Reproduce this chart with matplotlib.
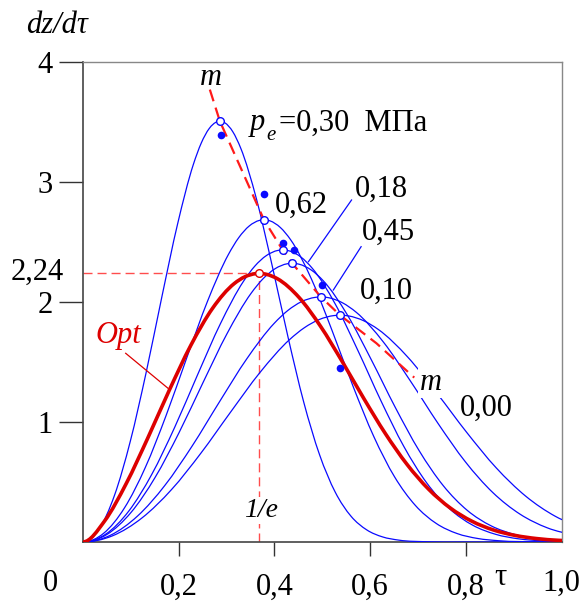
import matplotlib
matplotlib.use("Agg")
import matplotlib.pyplot as plt
from matplotlib.path import Path
from matplotlib.patches import PathPatch
from matplotlib.transforms import blended_transform_factory

# curves dz/dtau, one pair of lists per pressure
tau_030 = [0, 0.0329, 0.0659, 0.0988, 0.1318, 0.1647, 0.1977, 0.2306, 0.2471, 0.2636, 0.2800, 0.2860, 0.2965, 0.3130,
           0.3294, 0.3624, 0.3953, 0.4283, 0.4612, 0.4942, 0.5271, 0.5600, 0.5930, 0.6259, 0.6589, 0.7248, 0.7907, 1.0213]
dz_030 = [0, 0.1023, 0.3897, 0.8387, 1.4099, 2.0416, 2.6513, 3.1469, 3.3249, 3.4452, 3.5020, 3.5063, 3.4929, 3.4186,
          3.2830, 2.8583, 2.3008, 1.7077, 1.1646, 0.7271, 0.4141, 0.2142, 0.1002, 0.0422, 0.0159, 0.0016, 0.0001, 0.0]

tau_062 = [0, 0.0434, 0.0868, 0.1302, 0.1736, 0.2170, 0.2604, 0.3038, 0.3255, 0.3472, 0.3689, 0.3780, 0.3906, 0.4123,
           0.4340, 0.4774, 0.5208, 0.5642, 0.6076, 0.6510, 0.6944, 0.7379, 0.7813, 0.8247, 0.8681, 0.9549, 1.0417]
dz_062 = [0, 0.0732, 0.2849, 0.6210, 1.0537, 1.5374, 2.0088, 2.3961, 2.5369, 2.6331, 2.6803, 2.6848, 2.6761, 2.6207,
          2.5173, 2.1897, 1.7573, 1.2973, 0.8778, 0.5421, 0.3044, 0.1546, 0.0707, 0.0290, 0.0106, 0.0010, 0.0]

tau_018 = [0, 0.0479, 0.0958, 0.1436, 0.1915, 0.2394, 0.2873, 0.3352, 0.3591, 0.3831, 0.4070, 0.4170, 0.4309, 0.4549,
           0.4788, 0.5267, 0.5746, 0.6225, 0.6703, 0.7182, 0.7661, 0.8140, 0.8619, 0.9098, 0.9576, 1.0534]
dz_018 = [0, 0.0664, 0.2583, 0.5629, 0.9552, 1.3936, 1.8209, 2.1720, 2.2996, 2.3869, 2.4296, 2.4337, 2.4258, 2.3756,
          2.2819, 1.9849, 1.5930, 1.1760, 0.7957, 0.4914, 0.2759, 0.1401, 0.0641, 0.0263, 0.0096, 0.0009]

tau_045 = [0, 0.0502, 0.1004, 0.1505, 0.2007, 0.2509, 0.3011, 0.3512, 0.3763, 0.4014, 0.4265, 0.4370, 0.4516, 0.4767,
           0.5018, 0.5520, 0.6021, 0.6523, 0.7025, 0.7527, 0.8028, 0.8530, 0.9032, 0.9534, 1.0036]
dz_045 = [0, 0.0633, 0.2465, 0.5371, 0.9115, 1.3298, 1.7376, 2.0726, 2.1944, 2.2776, 2.3184, 2.3223, 2.3147, 2.2669,
          2.1775, 1.8941, 1.5201, 1.1222, 0.7592, 0.4689, 0.2633, 0.1337, 0.0612, 0.0251, 0.0092]

tau_010 = [0, 0.0571, 0.1141, 0.1712, 0.2283, 0.2853, 0.3424, 0.3995, 0.4280, 0.4565, 0.4851, 0.4970, 0.5136, 0.5421,
           0.5707, 0.6277, 0.6848, 0.7419, 0.7989, 0.8560, 0.9131, 0.9701, 1.0272]
dz_010 = [0, 0.0557, 0.2167, 0.4723, 0.8014, 1.1693, 1.5278, 1.8224, 1.9295, 2.0027, 2.0385, 2.0419, 2.0353, 1.9932,
          1.9146, 1.6654, 1.3366, 0.9867, 0.6676, 0.4123, 0.2315, 0.1176, 0.0538]

tau_000 = [0, 0.0617, 0.1233, 0.1850, 0.2466, 0.3083, 0.3700, 0.4316, 0.4625, 0.4933, 0.5241, 0.5370, 0.5549, 0.5858,
           0.6166, 0.6783, 0.7399, 0.8016, 0.8632, 0.9249, 0.9866, 1.0482]
dz_000 = [0, 0.0515, 0.2006, 0.4371, 0.7417, 1.0822, 1.4140, 1.6867, 1.7857, 1.8535, 1.8867, 1.8898, 1.8837, 1.8447,
          1.7720, 1.5414, 1.2370, 0.9132, 0.6179, 0.3816, 0.2142, 0.1088]

tau_opt = [0, 0.0451, 0.0903, 0.1354, 0.1805, 0.2256, 0.2708, 0.3159, 0.3385, 0.3610, 0.3679, 0.3836, 0.4062, 0.4513,
           0.4964, 0.5415, 0.5867, 0.6318, 0.6769, 0.7220, 0.7672, 0.8123, 0.8574, 0.9026, 0.9477, 0.9928, 1.0379]
dz_opt = [0, 0.1746, 0.4867, 0.8665, 1.2666, 1.6413, 1.9482, 2.1534, 2.2107, 2.2363, 2.2377, 2.2302, 2.1936, 2.0380,
          1.7965, 1.5038, 1.1953, 0.9025, 0.6468, 0.4399, 0.2834, 0.1732, 0.1001, 0.0548, 0.0283, 0.0138, 0.0063]

# maxima of the curves (open circles) and the m-m line through them
peak_tau = [0.286, 0.378, 0.417, 0.437, 0.497, 0.537]
peak_dz = [3.506, 2.685, 2.434, 2.322, 2.042, 1.890]
opt_peak_tau = 0.368
opt_peak_dz = 2.24
m_tau = [0.265, 0.286, 0.378, 0.417, 0.437, 0.497, 0.537, 0.613, 0.692]
m_dz = [3.77, 3.506, 2.685, 2.434, 2.322, 2.042, 1.890, 1.656, 1.37]

# experimental points
exp_tau = [0.288, 0.379, 0.418, 0.441, 0.499, 0.537]
exp_dz = [3.39, 2.90, 2.49, 2.43, 2.14, 1.45]

yticks = [1, 2, 3, 4]
ytick_labels = ["1", "2", "3", "4"]
xticks = [0.2, 0.4, 0.6, 0.8]
xtick_labels = ["0,2", "0,4", "0,6", "0,8"]

serif = ["Liberation Serif", "DejaVu Serif"]
blue = "#0a0aff"
red = "#dd0000"
fs = 22


def smooth_line(ax, t, v, **kw):
    # cubic Hermite through the read points, drawn as a bezier path
    n = len(t)
    slopes = [0.0]
    for i in range(1, n - 1):
        h0 = t[i] - t[i - 1]
        h1 = t[i + 1] - t[i]
        d0 = (v[i] - v[i - 1]) / h0
        d1 = (v[i + 1] - v[i]) / h1
        slopes.append((h1 * d0 + h0 * d1) / (h0 + h1))
    slopes.append((v[-1] - v[-2]) / (t[-1] - t[-2]))
    verts = [(t[0], v[0])]
    codes = [Path.MOVETO]
    for i in range(n - 1):
        h = t[i + 1] - t[i]
        verts += [(t[i] + h / 3, v[i] + slopes[i] * h / 3),
                  (t[i + 1] - h / 3, v[i + 1] - slopes[i + 1] * h / 3),
                  (t[i + 1], v[i + 1])]
        codes += [Path.CURVE4] * 3
    patch = PathPatch(Path(verts, codes), fill=False, capstyle="round", joinstyle="round", **kw)
    ax.add_patch(patch)


fig = plt.figure(figsize=(5.84, 6.02), dpi=100)
ax = fig.add_axes([0.1421, 0.0997, 0.8197, 0.7973])

for t, v in [(tau_030, dz_030), (tau_062, dz_062), (tau_018, dz_018), (tau_045, dz_045),
             (tau_010, dz_010), (tau_000, dz_000)]:
    smooth_line(ax, t, v, edgecolor=blue, lw=0.9, zorder=3)

smooth_line(ax, tau_opt, dz_opt, edgecolor=red, lw=2.6, zorder=4)

# guide lines to the optimum peak
ax.plot([0, opt_peak_tau], [opt_peak_dz, opt_peak_dz], color="#ff4d4d", lw=1.0, dashes=(6.5, 3.6), zorder=2)
ax.plot([opt_peak_tau, opt_peak_tau], [0, opt_peak_dz], color="#ff4d4d", lw=1.0, dashes=(6.5, 3.6), zorder=2)

ax.plot(m_tau, m_dz, color="#ff1a1a", lw=1.6, dashes=(5.5, 3), zorder=5)

ax.plot(exp_tau, exp_dz, "o", color=blue, ms=5.5, mew=0, zorder=6)
ax.plot(peak_tau, peak_dz, "o", mfc="white", mec=blue, ms=5.5, mew=1.0, zorder=7)
ax.plot([opt_peak_tau], [opt_peak_dz], "o", mfc="white", mec=red, ms=5.5, mew=1.0, zorder=7)

# leader lines
ax.plot([0.561, 0.471], [2.85, 2.336], color=blue, lw=0.9, zorder=3)
ax.plot([0.581, 0.523], [2.461, 2.10], color=blue, lw=0.9, zorder=3)
ax.plot([0.0892, 0.1776], [1.5725, 1.281], color=red, lw=0.9, zorder=3)

ax.set_xlim(0, 1)
ax.set_ylim(0, 4)
ax.set_yticks(yticks)
ax.set_yticklabels(ytick_labels, fontfamily=serif, fontsize=fs)
ax.set_xticks(xticks)
ax.set_xticklabels(xtick_labels, fontfamily=serif, fontsize=fs)
ax.tick_params(axis="y", direction="out", length=17, width=1.0, pad=5, color="#333333")
ax.tick_params(axis="x", direction="out", length=10, width=1.0, pad=12, color="#333333")

for s in ["left", "bottom"]:
    ax.spines[s].set_color("#444444")
    ax.spines[s].set_linewidth(1.2)
for s in ["top", "right"]:
    ax.spines[s].set_color("#888888")
    ax.spines[s].set_linewidth(1.0)

# texts
ax.text(0.3489, 3.43, "p", fontsize=fs, family=serif, style="italic", ha="left", va="baseline")
ax.text(0.3823, 3.35, "e", fontsize=15, family=serif, style="italic", ha="left", va="baseline")
ax.text(0.4094, 3.43, "=0,30  МПа", fontsize=fs, family=serif, ha="left", va="baseline")
ax.text(0.401, 2.74, "0,62", fontsize=fs, family=serif, ha="left", va="baseline")
ax.text(0.568, 2.875, "0,18", fontsize=fs, family=serif, ha="left", va="baseline")
ax.text(0.583, 2.517, "0,45", fontsize=fs, family=serif, ha="left", va="baseline")
ax.text(0.579, 2.025, "0,10", fontsize=fs, family=serif, ha="left", va="baseline")
ax.text(0.7876, 1.05, "0,00", fontsize=fs, family=serif, ha="left", va="baseline")
ax.text(0.027, 1.658, "Opt", fontsize=fs, family=serif, ha="left", va="baseline", color=red, style="italic")
ax.text(0.267, 3.81, "m", fontsize=fs, family=serif, ha="center", va="baseline", style="italic")
ax.text(0.727, 1.267, "m", fontsize=fs, family=serif, ha="center", va="baseline", style="italic", zorder=8,
        bbox=dict(facecolor="white", edgecolor="none", pad=1.0))
ax.text(0.372, 0.208, "1/e", fontsize=20, family=serif, ha="center", va="baseline", style="italic", zorder=8,
        bbox=dict(facecolor="white", edgecolor="none", pad=0.5))

yax = blended_transform_factory(ax.transAxes, ax.transData)
ax.text(-0.040, 2.183, "2,24", fontsize=fs, family=serif, ha="right", va="baseline", transform=yax)

xax = ax.get_xaxis_transform()
ax.text(-0.069, -0.102, "0", fontsize=fs, family=serif, ha="center", va="baseline", transform=ax.transAxes)
ax.text(1.0, -0.102, "1,0", fontsize=fs, family=serif, ha="center", va="baseline", transform=xax, clip_on=False)
ax.text(0.871, -0.09, "τ", fontsize=fs, family=serif, ha="center", va="baseline", transform=xax)
ax.text(-0.054, 1.077, "dz/dτ", fontsize=fs, family=serif, ha="center", va="center", style="italic",
        transform=ax.transAxes)

fig.savefig("out.png", dpi=100)
